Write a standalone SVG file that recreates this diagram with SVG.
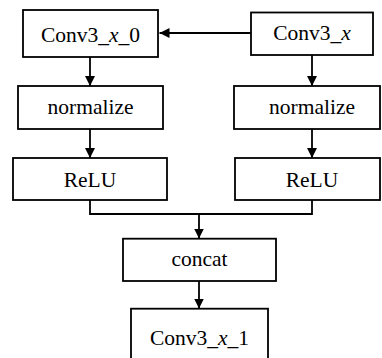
<svg xmlns="http://www.w3.org/2000/svg" width="382" height="358" viewBox="0 0 382 358">
  <defs>
    <marker id="arrow" viewBox="0 0 10 10" refX="10" refY="5" markerWidth="10" markerHeight="10" markerUnits="userSpaceOnUse" orient="auto">
      <path d="M0,0 L10,5 L0,10 Z" fill="#000"/>
    </marker>
    <style>
      .box { fill: #fff; stroke: #000; stroke-width: 1.8; }
      .label { font-family: "Liberation Serif", "Times New Roman", serif; font-size: 21.5px; fill: #000; text-anchor: middle; }
      .it { font-style: italic; }
      .wire { fill: none; stroke: #000; stroke-width: 1.8; }
    </style>
  </defs>
  <rect width="382" height="358" fill="#fff"/>

  <!-- arrows and the merge wire under the ReLU blocks -->
  <g id="connectors">
    <line class="wire" x1="251" y1="33" x2="159.5" y2="33" marker-end="url(#arrow)"/>
    <line class="wire" x1="90" y1="57" x2="90" y2="86" marker-end="url(#arrow)"/>
    <line class="wire" x1="312" y1="55" x2="312" y2="86" marker-end="url(#arrow)"/>
    <line class="wire" x1="90" y1="129" x2="90" y2="158" marker-end="url(#arrow)"/>
    <line class="wire" x1="312" y1="129" x2="312" y2="158" marker-end="url(#arrow)"/>
    <path class="wire" d="M90,200 V214 H312 V200"/>
    <line class="wire" x1="199" y1="214" x2="199" y2="238.5" marker-end="url(#arrow)"/>
    <line class="wire" x1="199" y1="281" x2="199" y2="308.5" marker-end="url(#arrow)"/>
  </g>

  <g id="conv3_x_0">
    <rect class="box" x="23" y="10" width="135" height="47"/>
    <text class="label" x="90.5" y="41.5">Conv3_<tspan class="it">x</tspan>_0</text>
  </g>
  <g id="conv3_x">
    <rect class="box" x="251" y="12.5" width="122" height="42.5"/>
    <text class="label" x="312" y="39.5">Conv3_<tspan class="it">x</tspan></text>
  </g>
  <g id="normalize_left">
    <rect class="box" x="18" y="86" width="145" height="43"/>
    <text class="label" x="90.5" y="113.5">normalize</text>
  </g>
  <g id="normalize_right">
    <rect class="box" x="234" y="86" width="146" height="43"/>
    <text class="label" x="312" y="113.5">normalize</text>
  </g>
  <g id="relu_left">
    <rect class="box" x="13" y="158" width="154" height="42"/>
    <text class="label" x="90" y="187">ReLU</text>
  </g>
  <g id="relu_right">
    <rect class="box" x="235" y="158" width="145" height="42"/>
    <text class="label" x="312" y="187">ReLU</text>
  </g>
  <g id="concat">
    <rect class="box" x="123" y="238.7" width="153" height="42.3"/>
    <text class="label" x="199.5" y="266">concat</text>
  </g>
  <g id="conv3_x_1">
    <rect class="box" x="131" y="308.7" width="137" height="60"/>
    <text class="label" x="199.5" y="345">Conv3_<tspan class="it">x</tspan>_1</text>
  </g>
</svg>
